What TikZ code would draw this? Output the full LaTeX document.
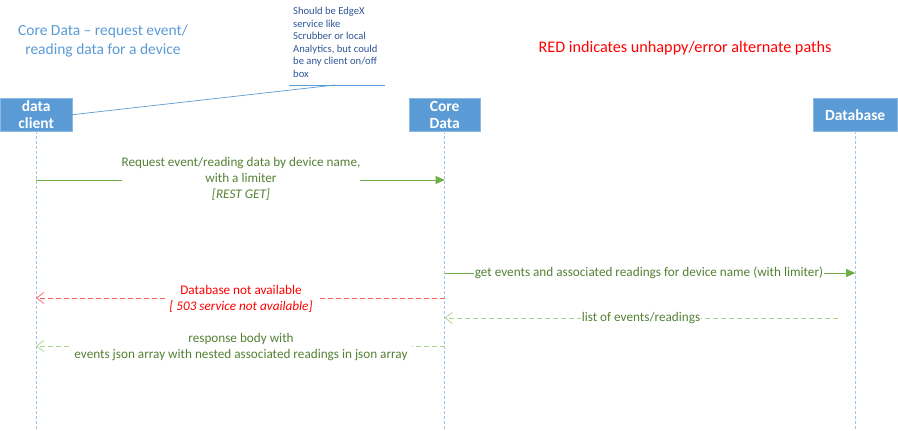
\documentclass[tikz,border=0pt]{standalone}
\usepackage{fontspec}
\setmainfont{Carlito}
\usetikzlibrary{arrows.meta}
\definecolor{boxblue}{HTML}{5B9BD5}
\definecolor{lifeblue}{HTML}{9DC3E6}
\definecolor{notecol}{HTML}{2F5597}
\definecolor{msgtxt}{HTML}{548235}
\definecolor{msgline}{HTML}{70AD47}
\definecolor{retline}{HTML}{A9D18E}
\definecolor{errline}{HTML}{FF5B5B}
\begin{document}
\begin{tikzpicture}[x=1pt,y=-1pt,
  actor/.style={fill=boxblue,draw=boxblue!70!white,text=white,font=\bfseries\fontsize{15.5}{17}\selectfont,align=center,inner sep=0pt,anchor=north west},
  lifeline/.style={draw=lifeblue,dash pattern=on 3pt off 2pt,line width=0.7pt},
  msglabel/.style={text=msgtxt,font=\fontsize{13.2}{16}\selectfont,align=center,inner sep=1pt},
  callarrow/.style={draw=msgline,line width=1pt,-{Triangle[length=9pt,width=8pt]}},
  retarrow/.style={draw=retline,line width=1pt,dash pattern=on 5pt off 3pt,-{Straight Barb[length=7pt,width=11pt,line width=0.7pt]}},
  errarrow/.style={draw=errline,line width=1pt,dash pattern=on 5pt off 3pt,-{Straight Barb[length=7pt,width=11pt,line width=0.7pt]}}]
\useasboundingbox (0,0) rectangle (898,431);
% actors
\node[actor,minimum width=72pt,minimum height=33pt] (dc) at (0,98) {data\\client};
\node[actor,minimum width=71pt,minimum height=33pt] (cd) at (409,98) {Core\\Data};
\node[actor,minimum width=84pt,minimum height=33pt] (db) at (813,98) {Database};
% lifelines
\coordinate (dcend) at (dc.south |- 0,431);
\coordinate (cdend) at (cd.south |- 0,431);
\coordinate (dbend) at (db.south |- 0,431);
\draw[lifeline] (dc.south) -- (dcend);
\draw[lifeline] (cd.south) -- (cdend);
\draw[lifeline] (db.south) -- (dbend);
% title
\node[text=boxblue,font=\fontsize{15.5}{18.5}\selectfont,align=center] (title) at (103,41) {Core Data -- request event/\\reading data for a device};
% note
\node[text=notecol,font=\fontsize{10.6}{12.6}\selectfont,align=left,anchor=north west,inner sep=0pt] (note) at (293,7) {Should be EdgeX\\service like\\Scrubber or local\\Analytics, but could\\be any client on/off\\box};
\coordinate (nl) at (289,85);
\coordinate (nr) at (385,85);
\coordinate (nc) at (335,85);
\draw[boxblue,line width=0.7pt] (nl) -- (nr);
\draw[boxblue,line width=0.7pt] (dc.east) -- (nc);
% red note
\node[text=red,font=\fontsize{16.2}{18}\selectfont] (rednote) at (685,48) {RED indicates unhappy/error alternate paths};
% lifeline points
\coordinate (a1) at (dc.south |- 0,180);
\coordinate (b1) at (cd.south |- 0,180);
\coordinate (b2) at (cd.south |- 0,273);
\coordinate (c2) at (db.south |- 0,273);
\coordinate (b3) at (cd.south |- 0,298);
\coordinate (a3) at (dc.south |- 0,298);
\coordinate (c4) at (838,318);
\coordinate (b4) at (cd.south |- 0,318);
\coordinate (b5) at (cd.south |- 0,346);
\coordinate (a5) at (dc.south |- 0,346);
% message 1
\draw[callarrow] (a1) -- (b1);
\node[msglabel,fill=white,inner xsep=0pt] (m1) at (241,179) {Request event/reading data by device name,\\with a limiter\\\textit{[REST GET]}};
% message 2
\draw[callarrow] (b2) -- (c2);
\node[msglabel,fill=white] (m2) at (649,273) {get events and associated readings for device name (with limiter)};
% error
\draw[errarrow] (b3) -- (a3);
\node[msglabel,fill=white,text=red,inner xsep=4pt] (m3) at (241,299) {Database not available\\\textit{[ 503 service not available]}};
% return from db
\draw[retarrow] (c4) -- (b4);
\node[msglabel,fill=white] (m4) at (641,318) {list of events/readings};
% response
\draw[retarrow] (b5) -- (a5);
\node[msglabel,fill=white,inner xsep=4pt] (m5) at (241,347) {response body with\\events json array with nested associated readings in json array};
\end{tikzpicture}
\end{document}
